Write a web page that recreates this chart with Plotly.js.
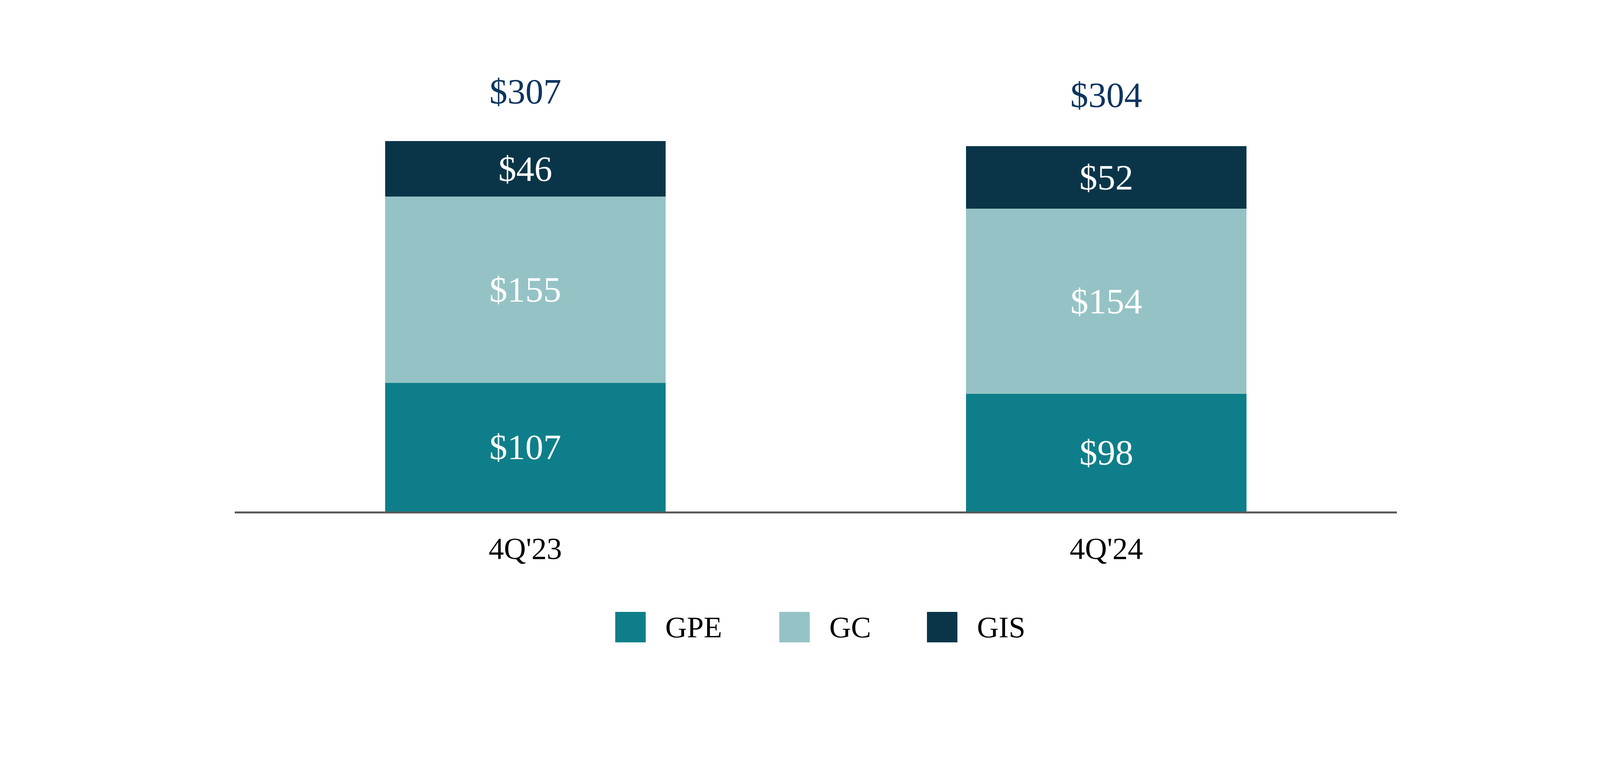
<!DOCTYPE html>
<html>
<head>
<meta charset="utf-8">
<script src="https://cdn.plot.ly/plotly-3.0.1.min.js"></script>
<style>
  html, body { margin: 0; padding: 0; background: #ffffff; }
  #chart { width: 4176px; height: 1986px; }
</style>
</head>
<body>
<div id="chart"></div>
<script>
// data
const quarters = ["4Q'23", "4Q'24"];
const seriesNames = ['GPE', 'GC', 'GIS'];
const gpe = [107, 98];
const gc = [155, 154];
const gis = [46, 52];
const totals = [307, 304];

const colors = ['#0e7f8a', '#95c3c5', '#0a3549'];
const fontFamily = '"Liberation Serif", "Times New Roman", serif';

const W = 4176, H = 1986;
const margin = {l: 601, r: 600, t: 263, b: 677, pad: 0};
const plotW = W - margin.l - margin.r;
const plotH = H - margin.t - margin.b;

// pixel -> paper helpers for the hand drawn legend
function px(x) { return (x - margin.l) / plotW; }
function py(y) { return (H - margin.b - y) / plotH; }

const values = [gpe, gc, gis];
const traces = values.map((vals, i) => ({
	type: 'bar',
	name: seriesNames[i],
	x: quarters,
	y: vals,
	width: 0.483,
	marker: {color: colors[i], line: {width: 0}},
	text: vals.map(v => '$' + v),
	textposition: 'inside',
	insidetextanchor: 'middle',
	textangle: 0,
	textfont: {family: fontFamily, size: 92, color: '#ffffff'},
	hoverinfo: 'skip',
	showlegend: false
}));

// totals above the stacks
const annotations = quarters.map((q, i) => ({
	x: q,
	y: totals[i],
	xref: 'x',
	yref: 'y',
	text: '$' + totals[i],
	showarrow: false,
	yanchor: 'middle',
	yshift: 131,
	font: {family: fontFamily, size: 92, color: '#0d3560'}
}));

// legend keys
const keyLeft = [1575, 1995, 2373];
const keySize = 78;
const keyTop = 1566;
const shapes = [];
seriesNames.forEach((name, i) => {
	shapes.push({
		type: 'rect',
		xref: 'paper', yref: 'paper',
		x0: px(keyLeft[i]), x1: px(keyLeft[i] + keySize),
		y0: py(keyTop + keySize), y1: py(keyTop),
		fillcolor: colors[i],
		line: {width: 0}
	});
	annotations.push({
		xref: 'paper', yref: 'paper',
		x: px(keyLeft[i] + keySize + 48),
		y: py(keyTop + keySize / 2),
		xanchor: 'left',
		yanchor: 'middle',
		text: name,
		showarrow: false,
		font: {family: fontFamily, size: 77, color: '#000000'}
	});
});

const layout = {
	width: W,
	height: H,
	margin: margin,
	barmode: 'stack',
	showlegend: false,
	paper_bgcolor: '#ffffff',
	plot_bgcolor: '#ffffff',
	font: {family: fontFamily, color: '#000000'},
	xaxis: {
		type: 'category',
		range: [-0.5, 1.5],
		showline: true,
		linecolor: '#595959',
		linewidth: 5,
		ticks: '',
		showgrid: false,
		zeroline: false,
		ticklabelstandoff: 22,
		tickfont: {family: fontFamily, size: 78, color: '#000000'}
	},
	yaxis: {
		range: [0, 340],
		visible: false,
		showgrid: false,
		zeroline: false
	},
	shapes: shapes,
	annotations: annotations
};

Plotly.newPlot('chart', traces, layout, {staticPlot: true, displayModeBar: false});
</script>
</body>
</html>
